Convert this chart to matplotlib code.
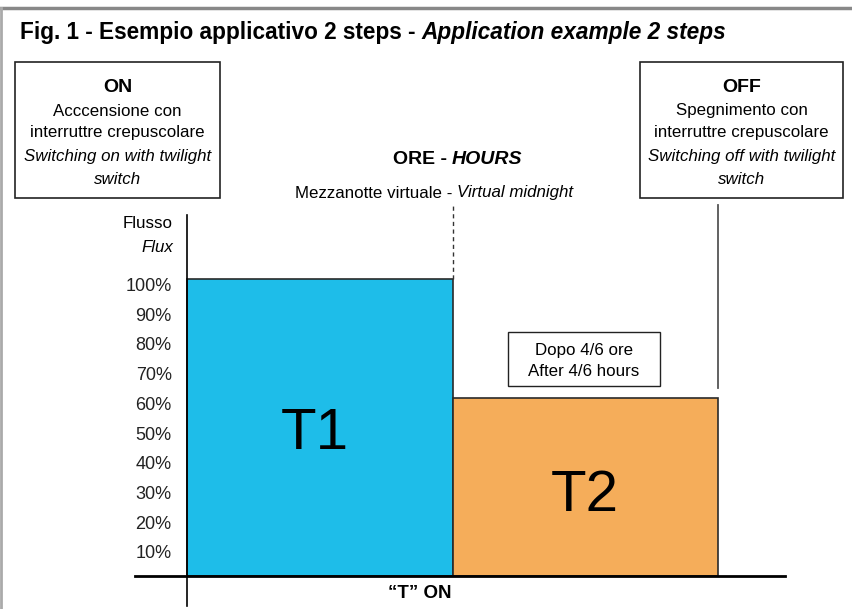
import matplotlib
matplotlib.use("Agg")
import matplotlib.pyplot as plt
import matplotlib.transforms as mtransforms
from matplotlib.patches import Rectangle

# Data
phases = ["T1", "T2"]
durations = [1.0, 1.0]          # relative length of each step
flux_levels = [100, 60]         # % of flux
bar_colors = ["#1EBDE9", "#F5AD5A"]
ytick_vals = [10, 20, 30, 40, 50, 60, 70, 80, 90, 100]
ytick_labels = ["10%", "20%", "30%", "40%", "50%", "60%", "70%", "80%", "90%", "100%"]

plt.rcParams["font.family"] = ["Liberation Sans", "DejaVu Sans"]

W, H = 852, 609
fig = plt.figure(figsize=(W / 100, H / 100), dpi=100)

# overlay in pixel coordinates for frame, boxes and notes
ov = fig.add_axes([0, 0, 1, 1])
ov.set_xlim(0, W)
ov.set_ylim(H, 0)
ov.axis("off")

ov.plot([0, W], [8, 8], color="#888888", lw=2.5)
ov.plot([1, 1], [8, H], color="#aaaaaa", lw=2)

TS = 16.3
title_a = "Fig. 1 - Esempio applicativo 2 steps - "
ov.text(20, 32, title_a, fontsize=TS, fontweight="bold", va="center", ha="left")
t = ov.text(0, 0, title_a, fontsize=TS, fontweight="bold", alpha=0)
fig.canvas.draw()
bb = t.get_window_extent()
ov.text(20 + bb.width, 32, "Application example 2 steps", fontsize=TS,
        fontweight="bold", style="italic", va="center", ha="left")

FS = 12.2
# ON / OFF boxes
for x0, x1, head, l1, l2, l3 in [
        (15, 220, "ON", "Acccensione con", "Switching on with twilight", "switch"),
        (640, 843, "OFF", "Spegnimento con", "Switching off with twilight", "switch")]:
    ov.add_patch(Rectangle((x0, 62), x1 - x0, 136, fill=False, ec="#222222", lw=1.2))
    cx = (x0 + x1) / 2
    ov.text(cx, 87, head, fontsize=14, fontweight="bold", ha="center", va="center")
    ov.text(cx, 111, l1, fontsize=FS, ha="center", va="center")
    ov.text(cx, 133, "interruttre crepuscolare", fontsize=FS, ha="center", va="center")
    ov.text(cx, 157, l2, fontsize=FS, style="italic", ha="center", va="center")
    ov.text(cx, 179, l3, fontsize=FS, style="italic", ha="center", va="center")

ov.text(452, 160, "ORE - ", fontsize=14, fontweight="bold", ha="right", va="center")
ov.text(452, 160, "HOURS", fontsize=14, fontweight="bold", style="italic",
        ha="left", va="center")
ov.text(457, 193, "Mezzanotte virtuale - ", fontsize=FS, ha="right", va="center")
ov.text(457, 193, "Virtual midnight", fontsize=FS, style="italic", ha="left", va="center")

ov.text(173, 224, "Flusso", fontsize=FS, ha="right", va="center")
ov.text(173, 247, "Flux", fontsize=FS, style="italic", ha="right", va="center")

ov.add_patch(Rectangle((508, 332), 152, 54, fill=False, ec="#222222", lw=1))
ov.text(584, 351, "Dopo 4/6 ore", fontsize=FS, ha="center", va="center")
ov.text(584, 372, "After 4/6 hours", fontsize=FS, ha="center", va="center")

ov.text(420, 593, "\u201cT\u201d ON", fontsize=13.5, fontweight="bold", ha="center", va="center")

# chart axes: x=0 at px 187, 1 unit = 265.5 px; y=0 at px 576, 1% = 2.97 px
ax_l, ax_r, ax_t, ax_b = 120, 800, 200, 606
pxu, pyu = 265.5, 2.97
ax = fig.add_axes([ax_l / W, 1 - ax_b / H, (ax_r - ax_l) / W, (ax_b - ax_t) / H])
ax.patch.set_alpha(0)
ax.set_xlim(-(187 - ax_l) / pxu, (ax_r - 187) / pxu)
ax.set_ylim(-(ax_b - 576) / pyu, (576 - ax_t) / pyu)

left = 0.0
offsets = {"T1": (-0.02, -2.3), "T2": (0.0, -3.2)}
for name, d, lvl, c in zip(phases, durations, flux_levels, bar_colors):
    ax.bar(left, lvl, width=d, align="edge", color=c, edgecolor="#2a2a2a", lw=1.2, zorder=2)
    dx, dy = offsets[name]
    ax.text(left + d / 2 + dx, lvl / 2 + dy, name, fontsize=42,
            ha="center", va="center", zorder=3)
    left += d

end = sum(durations)
ax.plot([durations[0], durations[0]], [flux_levels[0], (576 - 205) / pyu],
        color="#333333", lw=1, ls=(0, (3, 2.5)))
ax.plot([end, end], [(576 - 388) / pyu, (576 - 205) / pyu], color="#555555", lw=1.3)

for s in ["top", "right"]:
    ax.spines[s].set_visible(False)
ax.spines["left"].set_position(("data", 0))
ax.spines["left"].set_bounds(ax.get_ylim()[0], (576 - 215) / pyu)
ax.spines["bottom"].set_position(("data", 0))
ax.spines["bottom"].set_bounds(-(187 - 135) / pxu, (785 - 187) / pxu)
ax.spines["left"].set_linewidth(1.2)
ax.spines["bottom"].set_linewidth(2)
ax.set_xticks([])
ax.set_yticks(ytick_vals)
ax.set_yticklabels(ytick_labels, fontsize=13, color="#222222")
ax.tick_params(axis="y", length=0, pad=11)
shift = mtransforms.ScaledTranslation(0, -4 / 72, fig.dpi_scale_trans)
for lab in ax.get_yticklabels():
    lab.set_transform(lab.get_transform() + shift)

fig.savefig("out.png", dpi=100)
